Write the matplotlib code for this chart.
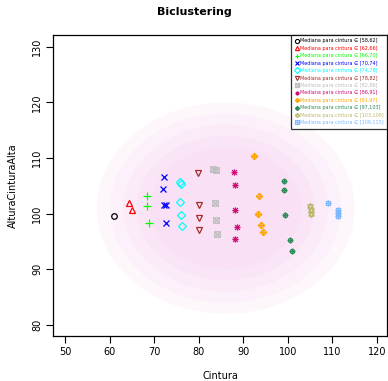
import numpy as np
import matplotlib
matplotlib.use("Agg")
import matplotlib.pyplot as plt
from matplotlib.path import Path
from matplotlib.patches import Ellipse
from matplotlib.lines import Line2D

# ---------------------------------------------------------
# Data (group medians)
# ---------------------------------------------------------
intervals = ["[58,62]", "[62,66]", "[66,70]", "[70,74]", "[74,78]", "[78,82]",
             "[82,86]", "[86,91]", "[91,97]", "[97,103]", "[103,109]", "[109,115]"]

cintura = [
    [60.8],
    [64.3, 64.9],
    [68.4, 68.4, 68.8],
    [72.1, 71.9, 72.1, 72.7, 72.5],
    [75.7, 76.0, 75.8, 75.9, 76.1],
    [79.8, 79.9, 79.9, 80.0],
    [83.1, 83.9, 83.7, 83.8, 84.0],
    [87.9, 88.2, 88.1, 88.5, 88.1],
    [92.4, 93.6, 93.3, 93.9, 94.3],
    [99.2, 99.2, 99.3, 100.5, 101.0],
    [105.0, 105.2, 105.1],
    [109.1, 111.2, 111.2, 111.2],
]
altura = [
    [99.5],
    [101.9, 100.7],
    [103.1, 101.3, 98.3],
    [106.5, 104.5, 101.6, 101.6, 98.4],
    [105.6, 105.35, 102.1, 99.7, 97.7],
    [107.3, 101.5, 99.3, 97.0],
    [108.0, 107.9, 102.0, 98.8, 96.4],
    [107.4, 105.1, 100.6, 97.6, 95.4],
    [110.3, 103.2, 100.0, 97.9, 96.7],
    [105.9, 104.3, 99.7, 95.3, 93.3],
    [101.4, 100.6, 99.9],
    [101.9, 100.6, 100.1, 99.5],
]

# background cloud of all observations, summarised as density levels
cloud_center = (86, 101)
cloud_width = [58, 52, 46, 40, 34]
cloud_height = [38, 34, 30, 26, 22]

colors = ["black", "red", "#00FF00", "blue", "cyan", "#A52A2A", "#BEBEBE",
          "#CD1076", "#FFA500", "#2E8B57", "#BDB76B", "#7EB8FF"]

# ---------------------------------------------------------
# R-like pch markers
# ---------------------------------------------------------
sq = Path([(-1, -1), (1, -1), (1, 1), (-1, 1), (-1, -1)],
          [Path.MOVETO, Path.LINETO, Path.LINETO, Path.LINETO, Path.CLOSEPOLY])
dia = Path([(0, -1.3), (1.3, 0), (0, 1.3), (-1.3, 0), (0, -1.3)],
           [Path.MOVETO, Path.LINETO, Path.LINETO, Path.LINETO, Path.CLOSEPOLY])
plus = Path([(-1.3, 0), (1.3, 0), (0, -1.3), (0, 1.3)],
            [Path.MOVETO, Path.LINETO, Path.MOVETO, Path.LINETO])
cross = Path([(-1, -1), (1, 1), (-1, 1), (1, -1)],
             [Path.MOVETO, Path.LINETO, Path.MOVETO, Path.LINETO])
tri_up = Path([(0, 1.2), (1.04, -0.6), (-1.04, -0.6), (0, 1.2)],
              [Path.MOVETO, Path.LINETO, Path.LINETO, Path.CLOSEPOLY])
tri_dn = Path([(0, -1.2), (1.04, 0.6), (-1.04, 0.6), (0, -1.2)],
              [Path.MOVETO, Path.LINETO, Path.LINETO, Path.CLOSEPOLY])
circ = Path.unit_circle()

markers = [
    "o", "^", "+", "x", "D", "v",
    Path.make_compound_path(sq, cross),
    Path.make_compound_path(plus, cross),
    Path.make_compound_path(dia, plus),
    Path.make_compound_path(circ, plus),
    Path.make_compound_path(tri_up, tri_dn),
    Path.make_compound_path(sq, plus),
]
sizes = [4, 4.5, 5.5, 4.5, 4, 4.5, 4, 4.5, 4.5, 4, 4.5, 4]

# ---------------------------------------------------------
# Plot
# ---------------------------------------------------------
fig = plt.figure(figsize=(3.88, 3.81), dpi=100)
ax = fig.add_axes([53 / 388, 1 - 336 / 381, 334 / 388, 301 / 381])

for w, h in zip(cloud_width, cloud_height):
    ax.add_patch(Ellipse(cloud_center, w, h, facecolor="#F6C4EE",
                         edgecolor="none", alpha=0.12, zorder=1))

handles = []
for i in range(len(intervals)):
    ax.plot(cintura[i], altura[i], linestyle="none", marker=markers[i],
            markersize=sizes[i], markerfacecolor="none",
            markeredgecolor=colors[i], markeredgewidth=0.9, zorder=3)
    handles.append(Line2D([], [], linestyle="none", marker=markers[i],
                          markersize=3, markerfacecolor="none",
                          markeredgecolor=colors[i], markeredgewidth=0.8,
                          label="Mediana para cintura \u2208 " + intervals[i]))

ax.set_xlim(47.2, 122.25)
ax.set_ylim(78.02, 132.1)
ax.set_xticks(np.arange(50, 121, 10))
ax.set_yticks(np.arange(80, 131, 10))
ax.tick_params(direction="out", length=5, width=0.8, labelsize=7, pad=3)
plt.setp(ax.get_yticklabels(), rotation=90, va="center")
for s in ax.spines.values():
    s.set_linewidth(0.9)

ax.set_xlabel("Cintura", fontsize=7, labelpad=10)
ax.set_ylabel("AlturaCinturaAlta", fontsize=7, labelpad=10)
fig.text(0.5, 1 - 12 / 381, "Biclustering", ha="center", va="center",
         fontsize=8, fontweight="bold")

leg = ax.legend(handles=handles, loc="upper right", fontsize=3.5,
                frameon=True, fancybox=False, borderaxespad=0,
                labelcolor="markeredgecolor", handlelength=0.8,
                handletextpad=0.3, labelspacing=0.5, borderpad=0.7)
leg.get_frame().set_edgecolor("black")
leg.get_frame().set_linewidth(0.9)

fig.savefig("out.png", dpi=100)
